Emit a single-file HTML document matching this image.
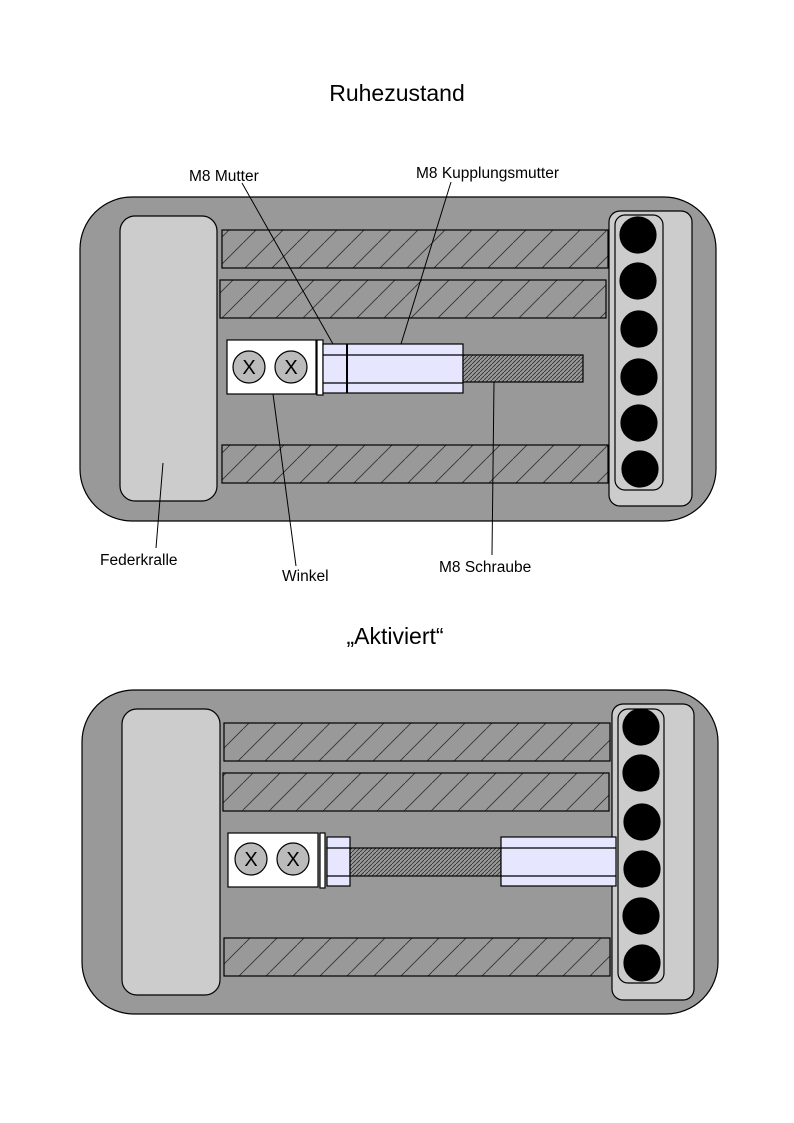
<!DOCTYPE html>
<html><head><meta charset="utf-8"><style>html,body{margin:0;padding:0;background:#fff}svg{display:block}</style></head>
<body>
<svg width="794" height="1123" viewBox="0 0 794 1123" xmlns="http://www.w3.org/2000/svg" font-family="'Liberation Sans', sans-serif">
<defs>
<pattern id="h" width="27" height="27" patternUnits="userSpaceOnUse">
<rect width="27" height="27" fill="#999"/>
<path d="M-2,29 L29,-2" stroke="#333" stroke-width="0.9"/>
</pattern>
<pattern id="f" width="4" height="4" patternUnits="userSpaceOnUse">
<rect width="4" height="4" fill="#999"/>
<path d="M-1,5 L5,-1" stroke="#333" stroke-width="0.9"/>
</pattern>
</defs>
<g stroke="#000" stroke-width="1.2">
<rect x="80" y="197" width="636" height="324" rx="52" fill="#999"/>
<rect x="120" y="216" width="97" height="285" rx="15" fill="#ccc"/>
<rect x="609" y="211" width="83" height="295" rx="11" fill="#ccc"/>
<rect x="615" y="215" width="48" height="275" rx="10" fill="#ccc"/>
<g fill="#000"><circle cx="638" cy="235" r="18"/><circle cx="638" cy="281" r="18"/><circle cx="639" cy="329" r="18"/><circle cx="639" cy="377" r="18"/><circle cx="639" cy="423" r="18"/><circle cx="640" cy="469" r="18"/></g>
<rect x="222" y="230" width="386" height="38" fill="url(#h)"/>
<rect x="220" y="280" width="386" height="38" fill="url(#h)"/>
<rect x="222" y="445" width="386" height="38" fill="url(#h)"/>
<rect x="227" y="340" width="89" height="54" fill="#fff"/>
<circle cx="249" cy="367" r="16" fill="#bbb"/><circle cx="291" cy="367" r="16" fill="#bbb"/>
<rect x="317" y="340" width="6" height="55" fill="#fff"/>
<rect x="323" y="344" width="140" height="49" fill="#e6e6ff"/>
<line x1="323" y1="355" x2="463" y2="355"/><line x1="323" y1="383" x2="463" y2="383"/>
<line x1="347" y1="344" x2="347" y2="393" stroke-width="2"/>
<rect x="463" y="355" width="120" height="27" fill="url(#f)"/>
<g stroke-width="1">
<line x1="242" y1="183" x2="333" y2="344"/>
<line x1="451" y1="182" x2="401" y2="344"/>
<line x1="156" y1="548" x2="163" y2="463"/>
<line x1="296" y1="566" x2="273" y2="394"/>
<line x1="492" y1="555" x2="494" y2="382"/>
</g>
<rect x="82" y="690" width="636" height="324" rx="52" fill="#999"/>
<rect x="122" y="709" width="98" height="286" rx="15" fill="#ccc"/>
<rect x="612" y="704" width="82" height="296" rx="11" fill="#ccc"/>
<rect x="618" y="709" width="46" height="274" rx="10" fill="#ccc"/>
<g fill="#000"><circle cx="641" cy="727" r="18"/><circle cx="641" cy="773" r="18"/><circle cx="642" cy="822" r="18"/><circle cx="642" cy="869" r="18"/><circle cx="641" cy="916" r="18"/><circle cx="642" cy="963" r="18"/></g>
<rect x="224" y="723" width="386" height="38" fill="url(#h)"/>
<rect x="223" y="773" width="386" height="38" fill="url(#h)"/>
<rect x="224" y="938" width="386" height="38" fill="url(#h)"/>
<rect x="228" y="833" width="90" height="54" fill="#fff"/>
<circle cx="251" cy="859" r="16" fill="#bbb"/><circle cx="293" cy="859" r="16" fill="#bbb"/>
<rect x="320" y="833" width="5" height="55" fill="#fff"/>
<rect x="327" y="837" width="23" height="49" fill="#e6e6ff"/>
<line x1="327" y1="848" x2="350" y2="848"/><line x1="327" y1="876" x2="350" y2="876"/>
<rect x="350" y="848" width="151" height="28" fill="url(#f)"/>
<rect x="501" y="837" width="115" height="49" fill="#e6e6ff"/>
<line x1="501" y1="848" x2="616" y2="848"/><line x1="501" y1="876" x2="616" y2="876"/>
</g>
<g fill="#000">
<text x="397" y="101" font-size="23" text-anchor="middle">Ruhezustand</text>
<text x="395" y="644" font-size="23" text-anchor="middle">„Aktiviert“</text>
<text x="189" y="181" font-size="15.5">M8 Mutter</text>
<text x="416" y="178" font-size="15.5">M8 Kupplungsmutter</text>
<text x="100" y="565" font-size="15.5">Federkralle</text>
<text x="282" y="581" font-size="15.5">Winkel</text>
<text x="439" y="572" font-size="15.5">M8 Schraube</text>
<g font-size="20" text-anchor="middle">
<text x="249" y="374">X</text><text x="291" y="374">X</text>
<text x="251" y="866">X</text><text x="293" y="866">X</text>
</g>
</g>
</svg>
</body></html>
